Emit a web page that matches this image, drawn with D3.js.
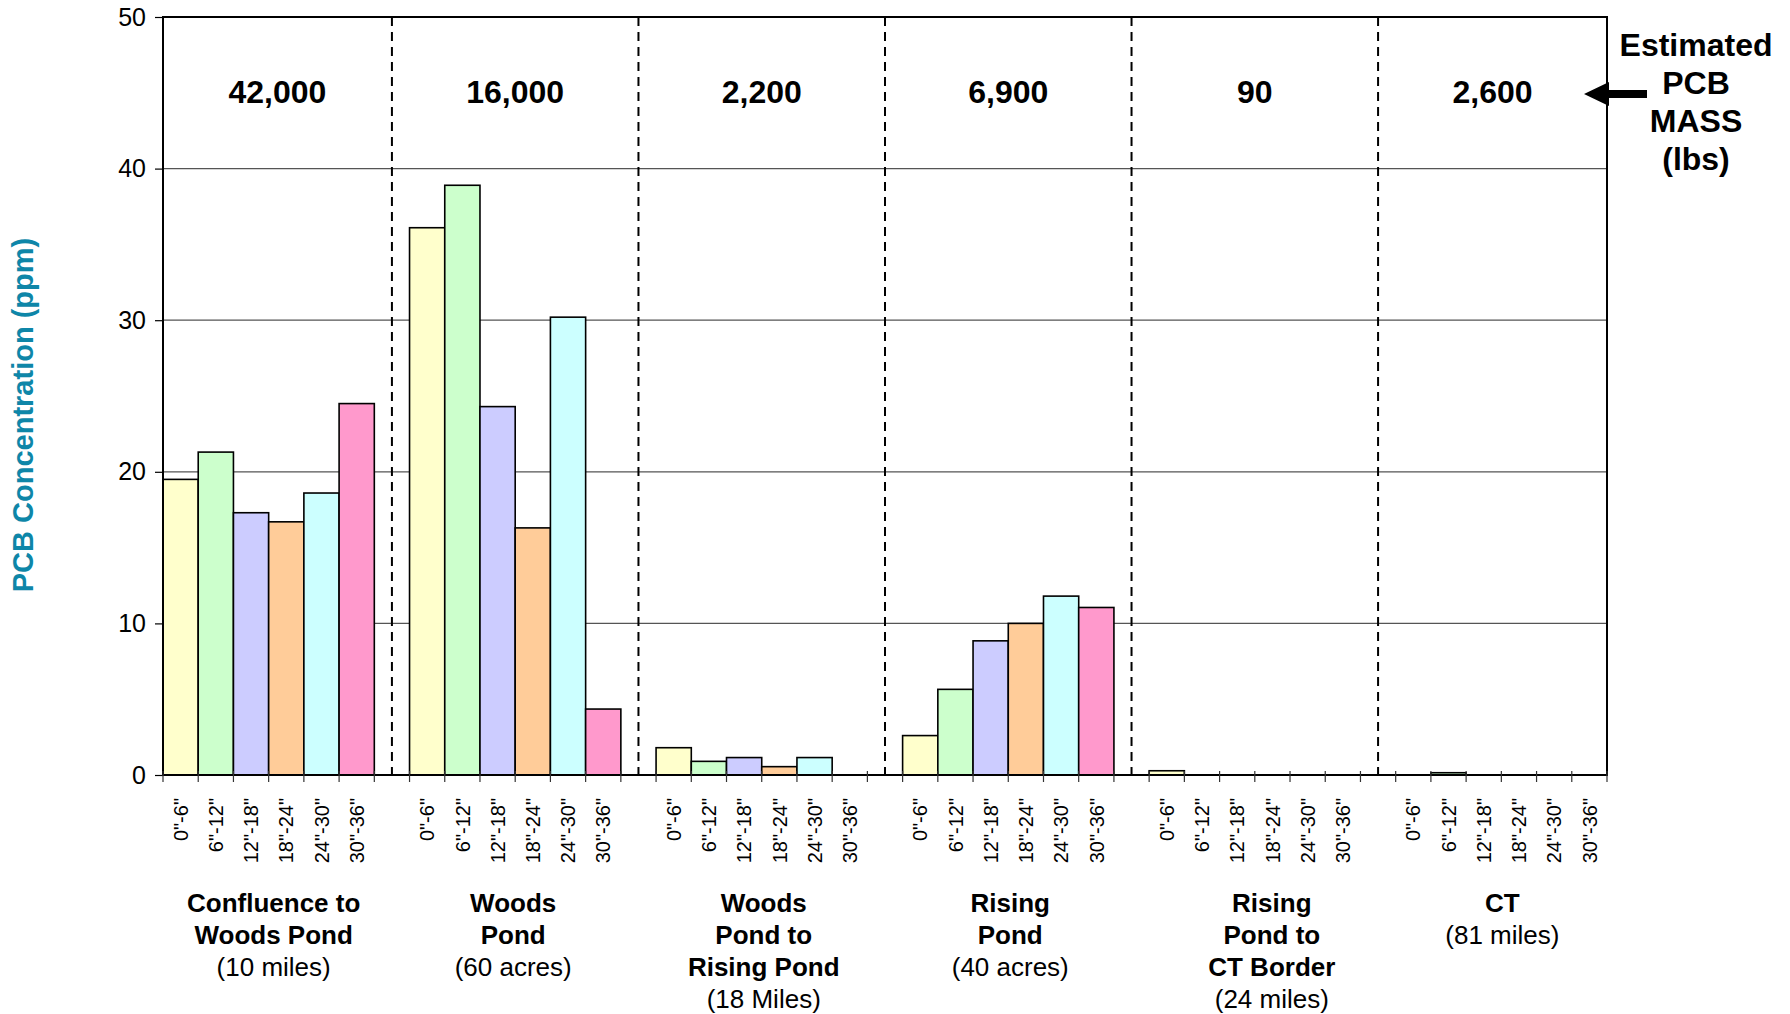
<!DOCTYPE html>
<html>
<head>
<meta charset="utf-8">
<script src="https://cdn.jsdelivr.net/npm/d3@7"></script>
<style>
  html, body { margin: 0; padding: 0; background: #fff; }
  svg { display: block; font-family: "Liberation Sans", Arial, sans-serif; }
</style>
</head>
<body>
<svg id="chart" width="1790" height="1014"></svg>
<script>
// ---------------- data ----------------
const depths = ['0"-6"', '6"-12"', '12"-18"', '18"-24"', '24"-30"', '30"-36"'];
const groupTitles = [
  ["Confluence to", "Woods Pond"],
  ["Woods", "Pond"],
  ["Woods", "Pond to", "Rising Pond"],
  ["Rising", "Pond"],
  ["Rising", "Pond to", "CT Border"],
  ["CT"]
];
const groupNotes = ["(10 miles)", "(60 acres)", "(18 Miles)", "(40 acres)", "(24 miles)", "(81 miles)"];
const massLabels = ["42,000", "16,000", "2,200", "6,900", "90", "2,600"];
const confluenceValues = [19.5, 21.3, 17.3, 16.7, 18.6, 24.5];
const woodsPondValues = [36.1, 38.9, 24.3, 16.3, 30.2, 4.35];
const woodsToRisingValues = [1.8, 0.9, 1.15, 0.55, 1.15, 0];
const risingPondValues = [2.6, 5.65, 8.85, 10.0, 11.8, 11.05];
const risingToCTValues = [0.28, 0, 0, 0, 0, 0];
const ctValues = [0, 0.15, 0, 0, 0, 0];
const yTicks = [0, 10, 20, 30, 40, 50];
const yTitle = "PCB Concentration (ppm)";
const massTitle = ["Estimated", "PCB", "MASS", "(lbs)"];

const groupValues = [confluenceValues, woodsPondValues, woodsToRisingValues,
                     risingPondValues, risingToCTValues, ctValues];

// ---------------- styles / layout ----------------
const depthColors = ["#FFFFCC", "#CCFFCC", "#CCCCFF", "#FFCC99", "#CCFFFF", "#FF99CC"];
const groupLabelShift = [5, -2, 2, 2, 17, 1];   // manual text-box nudges as in the original

const svg = d3.select("#chart");
const plot = { left: 163, top: 17, right: 1607, bottom: 775 };

// build category slots: 6 bars per group + 1 gap slot between groups
const slots = [];
groupValues.forEach((vals, g) => {
  depths.forEach((d, i) => slots.push({ id: `g${g}d${i}`, group: g, depth: i, label: d, value: vals[i] }));
  if (g < groupValues.length - 1) slots.push({ id: `gap${g}`, group: g, gap: true, label: "" });
});

const x = d3.scaleBand().domain(slots.map(s => s.id)).range([plot.left, plot.right]).padding(0);
const y = d3.scaleLinear().domain([0, 50]).range([plot.bottom, plot.top]);
const bw = x.bandwidth();

// gridlines
svg.append("g").selectAll("line").data(yTicks.filter(t => t > 0 && t < 50)).join("line")
  .attr("x1", plot.left).attr("x2", plot.right)
  .attr("y1", d => y(d)).attr("y2", d => y(d))
  .attr("stroke", "#555").attr("stroke-width", 1.2);

// dashed dividers at gap slots
const gaps = slots.filter(s => s.gap);
svg.append("g").selectAll("line").data(gaps).join("line")
  .attr("x1", d => x(d.id) + bw / 2).attr("x2", d => x(d.id) + bw / 2)
  .attr("y1", plot.top).attr("y2", plot.bottom)
  .attr("stroke", "#000").attr("stroke-width", 2).attr("stroke-dasharray", "9,6");

// bars
svg.append("g").selectAll("rect").data(slots.filter(s => !s.gap && s.value > 0)).join("rect")
  .attr("x", d => x(d.id)).attr("width", bw)
  .attr("y", d => y(d.value)).attr("height", d => y(0) - y(d.value))
  .attr("fill", d => depthColors[d.depth]).attr("stroke", "#000").attr("stroke-width", 1.6);

// frame
svg.append("rect").attr("x", plot.left).attr("y", plot.top)
  .attr("width", plot.right - plot.left).attr("height", plot.bottom - plot.top)
  .attr("fill", "none").attr("stroke", "#000").attr("stroke-width", 2);

// y axis
const yAxis = d3.axisLeft(y).tickValues(yTicks).tickSize(8).tickPadding(9);
const yg = svg.append("g").attr("transform", `translate(${plot.left},0)`).call(yAxis);
yg.select(".domain").remove();
yg.selectAll("text").attr("font-size", 25).attr("fill", "#000")
  .attr("font-family", '"Liberation Sans", Arial, sans-serif');
yg.selectAll("line").attr("stroke", "#000").attr("stroke-width", 1.2);

// x ticks at slot boundaries
const boundaries = slots.map(s => x(s.id)).concat([plot.right]);
svg.append("g").selectAll("line").data(boundaries).join("line")
  .attr("x1", d => d).attr("x2", d => d)
  .attr("y1", plot.bottom - 4).attr("y2", plot.bottom + 7)
  .attr("stroke", "#333").attr("stroke-width", 1.2);

// x tick labels (rotated)
const xAxis = d3.axisBottom(x).tickFormat(id => slots.find(s => s.id === id).label).tickSize(0).tickPadding(0);
const xg = svg.append("g").attr("transform", `translate(0,${plot.bottom})`).call(xAxis);
xg.select(".domain").remove();
xg.selectAll("text")
  .attr("font-size", 20).attr("fill", "#000")
  .attr("font-family", '"Liberation Sans", Arial, sans-serif')
  .attr("text-anchor", "end")
  .attr("transform", "rotate(-90)")
  .attr("x", -23).attr("y", 0).attr("dy", "0.36em");

// group labels below
const groupCenter = g => x(`g${g}d0`) + 3 * bw + groupLabelShift[g];
groupTitles.forEach((lines, g) => {
  const t = svg.append("text").attr("text-anchor", "middle").attr("font-size", 26);
  lines.forEach((ln, i) => {
    t.append("tspan").attr("x", groupCenter(g)).attr("y", 912 + i * 32)
      .attr("font-weight", "bold").text(ln);
  });
  t.append("tspan").attr("x", groupCenter(g)).attr("y", 912 + lines.length * 32).text(groupNotes[g]);
});

// mass labels centered between dividers
const dividerX = [plot.left].concat(gaps.map(d => x(d.id) + bw / 2)).concat([plot.right]);
svg.append("g").selectAll("text").data(massLabels).join("text")
  .attr("x", (d, i) => (dividerX[i] + dividerX[i + 1]) / 2)
  .attr("y", 103).attr("text-anchor", "middle")
  .attr("font-size", 32).attr("font-weight", "bold").text(d => d);

// y axis title
svg.append("text").attr("transform", "translate(33,415) rotate(-90)")
  .attr("text-anchor", "middle").attr("font-size", 29).attr("font-weight", "bold")
  .attr("fill", "#0E86A8").text(yTitle);

// estimated PCB mass label + arrow
const mt = svg.append("text").attr("text-anchor", "middle").attr("font-size", 32).attr("font-weight", "bold");
massTitle.forEach((ln, i) => mt.append("tspan").attr("x", 1696).attr("y", 56 + i * 38).text(ln));
svg.append("path")
  .attr("d", "M1584,94 L1609,82 L1609,90 L1647,90 L1647,98 L1609,98 L1609,106 Z")
  .attr("fill", "#000");
</script>
</body>
</html>
